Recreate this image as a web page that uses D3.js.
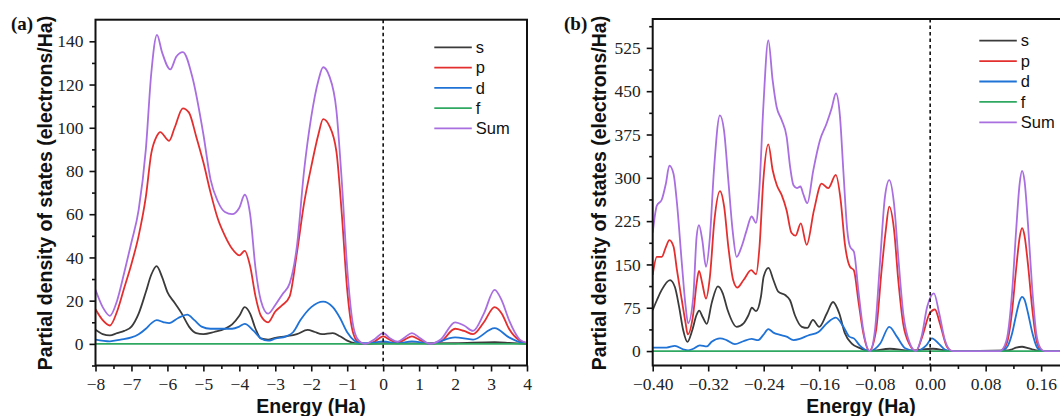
<!DOCTYPE html>
<html>
<head>
<meta charset="utf-8">
<script src="https://cdn.jsdelivr.net/npm/d3@7.9.0/dist/d3.min.js"></script>
<style>
  html, body { margin: 0; padding: 0; background: #fff; }
  svg { display: block; }
  .tick text { font-family: "Liberation Serif", "Times New Roman", serif; font-size: 17.5px; fill: #222; }
  .title { font-family: "Liberation Sans", Arial, sans-serif; font-weight: bold; font-size: 19.5px; fill: #111; }
  .legend text { font-family: "Liberation Sans", Arial, sans-serif; font-size: 16.5px; fill: #111; }
  .tag { font-family: "Liberation Serif", "Times New Roman", serif; font-weight: bold; font-size: 19px; fill: #111; }
</style>
</head>
<body>
<svg id="chart" width="1060" height="416"></svg>
<script>
// series labels and colours
const seriesNames = ['s', 'p', 'd', 'f', 'Sum'];
const seriesColors = ['#3b3b3b', '#e3302f', '#1f72d6', '#2fa862', '#a96ee0'];

// panel (a): energy (Ha) vs PDOS
const aS = [[-8,6.5],[-7.8,4.5],[-7.6,3.9],[-7.4,5],[-7.2,6],[-7,8],[-6.8,14],[-6.6,24],[-6.45,32],[-6.3,36],
  [-6.15,31],[-6,24],[-5.8,19],[-5.6,14],[-5.4,8],[-5.2,5],[-5,4.5],[-4.7,5.5],[-4.4,7],[-4.2,9],[-4,13],
  [-3.85,17],[-3.7,14],[-3.55,7],[-3.4,2.5],[-3.2,2],[-3,2.8],[-2.7,3.5],[-2.4,4.5],[-2.1,6.5],[-1.9,5.5],
  [-1.7,4.5],[-1.4,5],[-1.2,3.5],[-1,1.5],[-0.8,0.3],[-0.5,0],[0,0.3],[1,0.2],[2,0.3],[3.1,0.8],[3.5,0.5],[4,0]];
const aP = [[-8,16],[-7.8,11],[-7.6,8.5],[-7.4,15],[-7.2,26],[-7,37],[-6.8,50],[-6.6,68],[-6.45,88],[-6.3,96],
  [-6.2,98],[-5.95,94],[-5.8,100],[-5.57,109],[-5.4,107],[-5.2,96],[-5,84],[-4.8,70],[-4.6,58],[-4.4,50],
  [-4.2,44],[-4,41],[-3.85,43],[-3.7,36],[-3.55,22],[-3.4,13],[-3.2,10],[-3,15],[-2.8,18],[-2.6,22],[-2.4,42],
  [-2.2,65],[-2,82],[-1.8,97],[-1.67,104],[-1.5,101],[-1.3,89],[-1.15,60],[-1,25],[-0.85,6],[-0.7,1],[-0.5,0],
  [-0.25,1],[0,3.5],[0.2,1.8],[0.4,0.5],[0.6,2],[0.8,3.5],[1,2],[1.3,0],[1.6,1],[2,7],[2.25,6],[2.5,4.5],
  [2.8,10],[3.1,17],[3.3,14],[3.5,7],[3.8,1.5],[4,0.3]];
const aD = [[-8,2],[-7.6,1.2],[-7.3,2],[-7,3],[-6.8,4.5],[-6.6,7],[-6.45,9.5],[-6.3,11],[-6.1,10],[-5.95,9.6],
  [-5.7,12],[-5.45,13.5],[-5.25,11],[-5.05,8],[-4.8,7],[-4.5,7],[-4.2,7],[-4,8],[-3.85,9.3],[-3.6,6],
  [-3.4,2.5],[-3.2,1.5],[-3,2.4],[-2.7,3.5],[-2.5,5.5],[-2.3,11],[-2,17],[-1.67,19.6],[-1.4,17],[-1.2,12],
  [-1,5.4],[-0.8,1.5],[-0.6,0.3],[-0.3,0.5],[0,1.2],[0.4,0.3],[0.8,1.2],[1.3,0.1],[2,3],[2.5,2],[3.1,7.3],
  [3.5,3],[3.9,0.3],[4,0]];
const aF = [[-8,0],[4,0]];
const aSum = [[-8,25],[-7.8,17],[-7.6,13],[-7.4,20],[-7.2,33],[-7,47],[-6.8,62],[-6.6,90],[-6.45,125],[-6.29,143],
  [-6.15,135],[-5.92,127],[-5.75,133],[-5.57,135],[-5.3,123],[-5,97],[-4.8,76],[-4.6,66],[-4.4,61],[-4.2,60],
  [-4,63],[-3.85,69],[-3.7,60],[-3.55,35],[-3.4,20],[-3.2,14],[-3,18],[-2.8,23],[-2.6,28],[-2.4,45],[-2.2,80],
  [-2,105],[-1.8,122],[-1.67,128],[-1.5,124],[-1.3,108],[-1.15,75],[-1,35],[-0.85,10],[-0.7,2],[-0.5,0],
  [-0.25,2],[0,5],[0.2,2.5],[0.4,1],[0.6,3],[0.8,5],[1,3],[1.3,0],[1.6,2],[2,10],[2.25,8.5],[2.5,6],[2.8,14],
  [3.1,25],[3.3,20],[3.5,11],[3.8,2],[4,0.5]];

// panel (b): energy (Ha) vs PDOS
const bS = [[-0.4,71],[-0.394,88],[-0.387,106],[-0.375,123],[-0.368,111],[-0.362,77],[-0.356,36],[-0.35,16],
  [-0.343,36],[-0.337,62],[-0.333,70],[-0.328,59],[-0.322,47],[-0.315,83],[-0.306,112],[-0.299,100],[-0.292,71],
  [-0.279,42],[-0.269,48],[-0.262,62],[-0.257,75],[-0.251,69],[-0.244,94],[-0.24,129],[-0.233,144],[-0.226,123],
  [-0.219,103],[-0.209,97],[-0.202,88],[-0.195,62],[-0.185,42],[-0.177,40],[-0.169,54],[-0.16,42],[-0.149,65],
  [-0.14,85],[-0.131,65],[-0.123,31],[-0.113,13],[-0.101,5],[-0.087,0],[-0.058,4],[-0.03,1],[0.004,4],[0.025,0.5],
  [0.03,0],[0.112,1],[0.118,3],[0.124,6],[0.1325,7.5],[0.141,5],[0.147,3],[0.153,1],[0.159,0],[0.2,0]];
const bP = [[-0.4,132],[-0.394,163],[-0.387,163],[-0.381,180],[-0.376,192],[-0.37,181],[-0.365,140],[-0.358,88],
  [-0.3525,48],[-0.3496,29],[-0.3415,65],[-0.3367,117],[-0.3333,139],[-0.3285,117],[-0.3232,91],[-0.3175,129],
  [-0.311,227],[-0.303,277],[-0.297,250],[-0.291,181],[-0.284,123],[-0.278,110],[-0.269,123],[-0.258,140],
  [-0.251,133],[-0.246,181],[-0.2405,296],[-0.2333,358],[-0.227,313],[-0.221,287],[-0.214,270],[-0.207,244],
  [-0.2,205],[-0.194,200],[-0.1865,221],[-0.178,184],[-0.1675,244],[-0.1565,290],[-0.147,282],[-0.136,305],
  [-0.129,261],[-0.123,186],[-0.1156,146],[-0.11,140],[-0.1036,88],[-0.0964,31],[-0.088,0],[-0.078,36],
  [-0.07,140],[-0.064,209],[-0.059,250],[-0.052,209],[-0.046,123],[-0.039,48],[-0.029,10],[-0.0206,0],
  [-0.0114,25],[-0.0008,65],[0.0069,72],[0.014,48],[0.024,8],[0.032,0],[0.1,0],[0.106,4],[0.112,20],[0.118,68],
  [0.124,143],[0.129,197],[0.1325,213],[0.136,200],[0.141,150],[0.147,75],[0.153,20],[0.159,3],[0.165,0],[0.2,0]];
const bD = [[-0.4,6],[-0.38,6],[-0.368,9],[-0.356,3],[-0.349,1],[-0.3415,4],[-0.332,10],[-0.322,8],[-0.315,16],
  [-0.303,22],[-0.2935,19],[-0.2815,12],[-0.2694,17],[-0.2574,21],[-0.2478,19],[-0.2405,28],[-0.2333,38],
  [-0.226,32],[-0.2165,28],[-0.207,25],[-0.197,19],[-0.188,21],[-0.176,27],[-0.161,33],[-0.149,48],[-0.136,58],
  [-0.125,42],[-0.1166,25],[-0.11,22],[-0.101,9],[-0.087,0],[-0.072,13],[-0.059,42],[-0.048,25],[-0.036,5],
  [-0.0206,0],[-0.0056,10],[0.0026,22],[0.0122,13],[0.0218,2],[0.03,0],[0.1,0],[0.106,2],[0.112,9],[0.118,30],
  [0.124,63],[0.129,87],[0.1325,94],[0.136,89],[0.141,66],[0.147,33],[0.153,9],[0.159,1],[0.165,0],[0.2,0]];
const bF = [[-0.4,0],[0.2,0]];
const bSum = [[-0.4,205],[-0.394,252],[-0.387,262],[-0.381,290],[-0.376,321],[-0.37,307],[-0.365,256],[-0.358,152],
  [-0.3525,77],[-0.349,48],[-0.3415,94],[-0.3367,198],[-0.3333,218],[-0.3285,192],[-0.3232,146],[-0.3175,198],
  [-0.3117,313],[-0.3031,408],[-0.2973,383],[-0.291,296],[-0.2848,209],[-0.279,163],[-0.2718,181],[-0.2646,209],
  [-0.2574,233],[-0.2511,222],[-0.2463,279],[-0.2405,423],[-0.2333,538],[-0.2271,469],[-0.2214,423],
  [-0.2141,400],[-0.2069,371],[-0.202,320],[-0.197,287],[-0.192,282],[-0.187,285],[-0.183,272],[-0.1771,256],
  [-0.1685,313],[-0.1589,365],[-0.1493,394],[-0.1421,420],[-0.1358,446],[-0.13,406],[-0.1252,313],
  [-0.1195,209],[-0.1156,181],[-0.1099,172],[-0.1036,106],[-0.0964,36],[-0.087,0],[-0.0796,36],[-0.0724,152],
  [-0.0652,267],[-0.059,296],[-0.0522,256],[-0.046,163],[-0.0388,65],[-0.0292,13],[-0.0206,0],[-0.0124,25],
  [-0.0042,77],[0.0054,100],[0.0131,65],[0.0212,19],[0.0284,2],[0.034,0],[0.1,0],[0.106,6],[0.112,30],
  [0.118,100],[0.124,210],[0.129,290],[0.1325,312],[0.136,295],[0.141,220],[0.147,110],[0.153,30],[0.159,5],
  [0.165,0],[0.2,0]];

// ticks
const aXTicks = [-8, -7, -6, -5, -4, -3, -2, -1, 0, 1, 2, 3, 4];
const aXMinor = [-7.5, -6.5, -5.5, -4.5, -3.5, -2.5, -1.5, -0.5, 0.5, 1.5, 2.5, 3.5];
const aYTicks = [0, 20, 40, 60, 80, 100, 120, 140];
const aYMinor = [-10, 10, 30, 50, 70, 90, 110, 130];
const bXTicks = [-0.40, -0.32, -0.24, -0.16, -0.08, 0.00, 0.08, 0.16];
const bXMinor = [-0.36, -0.28, -0.20, -0.12, -0.04, 0.04, 0.12, 0.20];
const bYTicks = [0, 75, 150, 225, 300, 375, 450, 525];
const bYMinor = [37.5, 112.5, 187.5, 262.5, 337.5, 412.5, 487.5, 562.5];

const svg = d3.select('#chart');

function drawPanel(p) {
  const g = svg.append('g');
  const x = d3.scaleLinear().domain(p.xDomain).range([p.left, p.right]);
  const y = d3.scaleLinear().domain(p.yDomain).range([p.bottom, p.top]);

  // clip so curves stay inside the frame
  g.append('clipPath').attr('id', p.id + '-clip')
    .append('rect')
    .attr('x', p.left).attr('y', p.top)
    .attr('width', p.right - p.left).attr('height', p.bottom - p.top);

  const line = d3.line()
    .x(d => x(d[0]))
    .y(d => y(d[1]))
    .curve(d3.curveMonotoneX);

  const plot = g.append('g').attr('clip-path', `url(#${p.id}-clip)`);
  p.series.forEach((s, i) => {
    plot.append('path')
      .datum(s)
      .attr('d', line)
      .attr('fill', 'none')
      .attr('stroke', seriesColors[i])
      .attr('stroke-width', 1.8)
      .attr('stroke-linejoin', 'round');
  });

  // dashed line at Fermi level
  g.append('line')
    .attr('x1', x(0)).attr('x2', x(0))
    .attr('y1', p.top).attr('y2', p.bottom)
    .attr('stroke', '#111')
    .attr('stroke-width', 1.6)
    .attr('stroke-dasharray', '3.5,3');

  // axes
  const xAxis = g.append('g')
    .attr('transform', `translate(0,${p.bottom})`)
    .call(d3.axisBottom(x).tickValues(p.xTicks).tickFormat(p.xFormat).tickSize(6).tickPadding(6));
  g.append('g')
    .attr('transform', `translate(0,${p.bottom})`)
    .call(d3.axisBottom(x).tickValues(p.xMinor).tickFormat('').tickSize(3.5));
  g.append('g')
    .attr('transform', `translate(${p.left},0)`)
    .call(d3.axisLeft(y).tickValues(p.yTicks).tickFormat(p.yFormat).tickSize(6).tickPadding(6));
  g.append('g')
    .attr('transform', `translate(${p.left},0)`)
    .call(d3.axisLeft(y).tickValues(p.yMinor).tickFormat('').tickSize(3.5));

  g.selectAll('.domain').remove();
  g.selectAll('.tick line').attr('stroke', '#111').attr('stroke-width', 1.6);

  // frame
  g.append('rect')
    .attr('x', p.left).attr('y', p.top)
    .attr('width', p.right - p.left).attr('height', p.bottom - p.top)
    .attr('fill', 'none')
    .attr('stroke', '#111')
    .attr('stroke-width', 2);

  // titles
  g.append('text')
    .attr('class', 'title')
    .attr('text-anchor', 'middle')
    .attr('transform', `translate(${p.yTitleX},193) rotate(-90)`)
    .attr('dy', '0.35em')
    .text('Partial density of states (electrons/Ha)');
  g.append('text')
    .attr('class', 'title')
    .attr('text-anchor', 'middle')
    .attr('x', p.xTitleX)
    .attr('y', 406.5)
    .attr('dy', '0.35em')
    .text('Energy (Ha)');
  g.append('text')
    .attr('class', 'tag')
    .attr('x', p.tagX)
    .attr('y', 29.5)
    .text(p.tag);

  // legend
  const lg = g.append('g').attr('class', 'legend');
  seriesNames.forEach((name, i) => {
    const yy = p.legendY + i * p.legendStep;
    lg.append('line')
      .attr('x1', p.legendX).attr('x2', p.legendX + 37.5)
      .attr('y1', yy).attr('y2', yy)
      .attr('stroke', seriesColors[i])
      .attr('stroke-width', 1.8);
    lg.append('text')
      .attr('x', p.legendX + 41.5)
      .attr('y', yy)
      .attr('dy', '0.35em')
      .text(name);
  });
}

drawPanel({
  id: 'a', tag: '(a)', tagX: 11,
  left: 95.5, right: 527, top: 19.7, bottom: 365.5,
  xDomain: [-8, 4], yDomain: [-10, 150],
  xTicks: aXTicks, xMinor: aXMinor, yTicks: aYTicks, yMinor: aYMinor,
  xFormat: d3.format('d'), yFormat: d3.format('d'),
  series: [aS, aP, aD, aF, aSum],
  yTitleX: 45.5, xTitleX: 311,
  legendX: 434.3, legendY: 47.3, legendStep: 20.25
});

drawPanel({
  id: 'b', tag: '(b)', tagX: 564,
  left: 652.7, right: 1068.9, top: 19, bottom: 365.5,
  xDomain: [-0.40, 0.20], yDomain: [-25, 575],
  xTicks: bXTicks, xMinor: bXMinor, yTicks: bYTicks, yMinor: bYMinor,
  xFormat: d3.format('.2f'), yFormat: d3.format('d'),
  series: [bS, bP, bD, bF, bSum],
  yTitleX: 599.3, xTitleX: 861,
  legendX: 979.3, legendY: 40.7, legendStep: 20.4
});
</script>
</body>
</html>
